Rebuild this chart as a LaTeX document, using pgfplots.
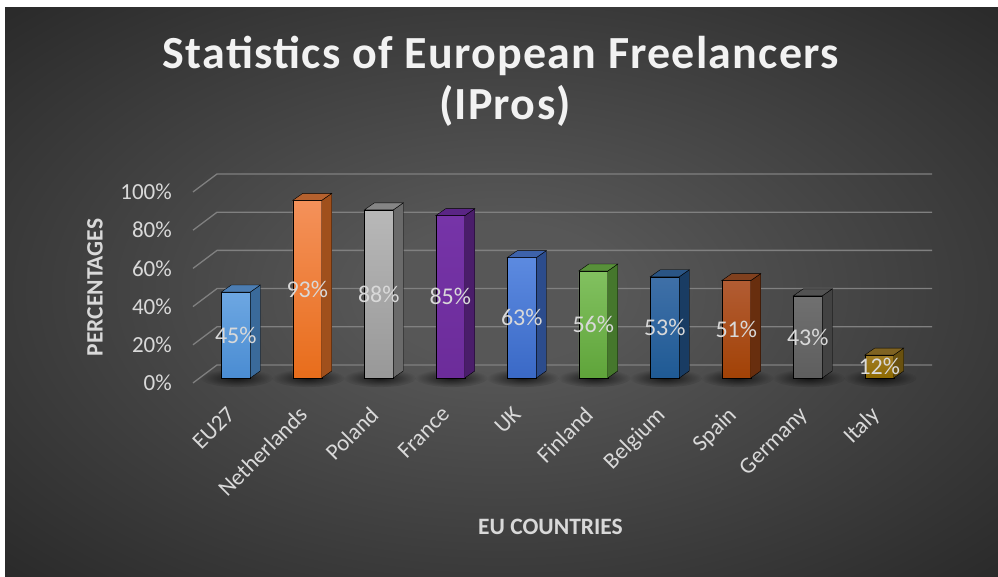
\documentclass[border=0pt]{standalone}
\usepackage{fontspec}
\setmainfont{Carlito}
\newfontfamily\titlefam[LetterSpace=2.8]{Carlito}
\usepackage{pgfplots}
\pgfplotsset{compat=1.18}
\usepackage{pgfplotstable}
\usetikzlibrary{fadings}

\definecolor{bgin}{HTML}{575757}
\definecolor{bgout}{HTML}{262626}
\definecolor{titlec}{HTML}{F2F2F2}
\definecolor{labc}{HTML}{D9D9D9}
\definecolor{gridc}{HTML}{808080}

\definecolor{eufT}{HTML}{6DA7E2}\definecolor{eufB}{HTML}{4A8CD2}\definecolor{euS}{HTML}{3A6A9A}\definecolor{euT}{HTML}{4C7DB2}
\definecolor{nlfT}{HTML}{F4915A}\definecolor{nlfB}{HTML}{E86D1B}\definecolor{nlS}{HTML}{A0501C}\definecolor{nlT}{HTML}{B5612E}
\definecolor{plfT}{HTML}{B8B8B8}\definecolor{plfB}{HTML}{989898}\definecolor{plS}{HTML}{6A6A6A}\definecolor{plT}{HTML}{858585}
\definecolor{frfT}{HTML}{7634A8}\definecolor{frfB}{HTML}{6C2C9A}\definecolor{frS}{HTML}{4A1D6A}\definecolor{frT}{HTML}{5A2585}
\definecolor{ukfT}{HTML}{5C8AE0}\definecolor{ukfB}{HTML}{3A69C6}\definecolor{ukS}{HTML}{2C4C8C}\definecolor{ukT}{HTML}{3D62AA}
\definecolor{fifT}{HTML}{82C160}\definecolor{fifB}{HTML}{5FA43A}\definecolor{fiS}{HTML}{45772C}\definecolor{fiT}{HTML}{58903A}
\definecolor{befT}{HTML}{3F70A8}\definecolor{befB}{HTML}{1F5A94}\definecolor{beS}{HTML}{193C63}\definecolor{beT}{HTML}{2A5585}
\definecolor{esfT}{HTML}{B25C33}\definecolor{esfB}{HTML}{A24206}\definecolor{esS}{HTML}{682E0E}\definecolor{esT}{HTML}{80401E}
\definecolor{defT}{HTML}{707070}\definecolor{defB}{HTML}{5E5E5E}\definecolor{deS}{HTML}{424242}\definecolor{deT}{HTML}{525252}
\definecolor{itfT}{HTML}{A07C25}\definecolor{itfB}{HTML}{8E6A00}\definecolor{itS}{HTML}{69510F}\definecolor{itT}{HTML}{7F6322}

\pgfdeclareradialshading{bgshade}{\pgfpoint{0bp}{0bp}}{color(0bp)=(bgin); color(6bp)=(bgin); color(38bp)=(bgout); color(50bp)=(bgout)}
\tikzfading[name=softshadow, inner color=transparent!15, outer color=transparent!100]
\pgfdeclareplotmark{empty}{}

\pgfplotstableread{
x y
0 45
1 93
2 88
3 85
4 63
5 56
6 53
7 51
8 43
9 12
}\datatable

\begin{document}
\begin{tikzpicture}
\fill[white] (0pt,0pt) rectangle (998pt,577pt);
\fill[bgout] (5pt,0pt) rectangle (998pt,570pt);
\shade[shading=bgshade] (5pt,0pt) rectangle (998pt,570pt);
\fill[white] (0pt,570pt) rectangle (998pt,577pt);
\fill[white] (0pt,0pt) rectangle (5pt,577pt);
% title
\node[anchor=base, text=titlec, font=\titlefam\bfseries\fontsize{46}{46}\selectfont] at (501pt,508pt) {Statistics of European Freelancers};
\node[anchor=base, text=titlec, font=\titlefam\bfseries\fontsize{46}{46}\selectfont] at (505pt,457pt) {(IPros)};

\begin{axis}[
  overlay,
  at={(193pt,194pt)}, anchor=south west,
  width=715pt, height=191pt, scale only axis,
  xmin=-0.5, xmax=9.5, ymin=0, ymax=100,
  clip=false,
  axis line style={draw=none},
  major tick length=0pt,
  xtick={0,1,...,9},
  xticklabels={EU27,Netherlands,Poland,France,UK,Finland,Belgium,Spain,Germany,Italy},
  ytick={0,20,...,100},
  yticklabel={\pgfmathprintnumber{\tick}\%},
  /pgf/number format/assume math mode=true,
  ticklabel style={font=\fontsize{23}{23}\selectfont, text=labc},
  yticklabel style={inner sep=0pt, anchor=east, xshift=-21pt},
  xticklabel style={inner sep=0pt, xshift=-3pt, yshift=-22pt, rotate=45, anchor=north east},
  xlabel={EU COUNTRIES},
  ylabel={PERCENTAGES},
  every axis x label/.style={at={(axis description cs:0.5,0)}, anchor=center, yshift=-144pt, font=\bfseries\fontsize{23.5}{23.5}\selectfont, text=labc},
  every axis y label/.style={at={(axis description cs:0,0.5)}, anchor=center, xshift=-98pt, rotate=90, font=\bfseries\fontsize{23.5}{23.5}\selectfont, text=labc},
]
\pgfplotsinvokeforeach{0,20,40,60,80,100}{
  \draw[gridc, line width=1.3pt] (axis cs:-0.5,#1) -- ++(24pt,18pt) -- ([shift={(24pt,18pt)}]axis cs:9.5,#1);
}
\addplot[scatter, only marks, mark=empty,
  visualization depends on={rawy \as \val},
  visualization depends on={rawx \as \idx},
  scatter/@pre marker code/.code={%
    \pgfmathtruncatemacro\ii{\idx}%
    \edef\cname{\ifcase\ii eu\or nl\or pl\or fr\or uk\or fi\or be\or es\or de\or it\fi}%
    \pgfmathsetmacro\barbot{5-\val*1.91}%
    \pgfmathsetmacro\labely{5-\val*0.955}%
    \pgfmathtruncatemacro\lbl{round(\val)}%
    \fill[black, opacity=0.85, path fading=softshadow] (8pt,\barbot pt) ellipse (36pt and 9pt);
    \shade[top color=\cname fT, bottom color=\cname fB] (-7.5pt,\barbot pt) rectangle (21.5pt,5pt);
    \fill[fill=\cname S] (21.5pt,\barbot pt) -- ++(10pt,7pt) -- (31.5pt,12pt) -- (21.5pt,5pt) -- cycle;
    \fill[fill=\cname T] (-7.5pt,5pt) -- (21.5pt,5pt) -- (31.5pt,12pt) -- (2.5pt,12pt) -- cycle;
    \node[text=labc, inner sep=0pt, font=\fontsize{24}{24}\selectfont] at (7pt,\labely pt) {\lbl\%};
  },
  scatter/@post marker code/.code={},
] table[x=x, y=y] {\datatable};
\end{axis}
\end{tikzpicture}
\end{document}
